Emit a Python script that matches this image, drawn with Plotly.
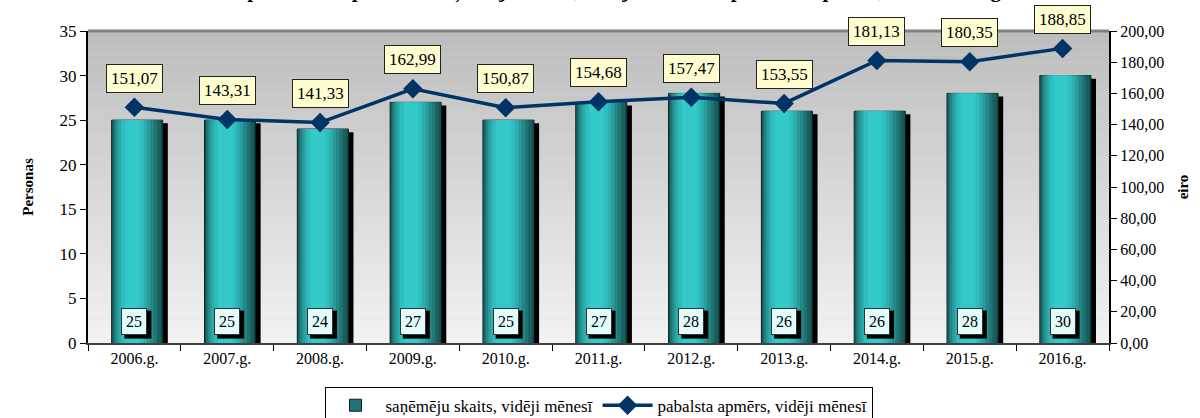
import plotly.graph_objects as go

years = ["2006.g.", "2007.g.", "2008.g.", "2009.g.", "2010.g.", "2011.g.",
         "2012.g.", "2013.g.", "2014.g.", "2015.g.", "2016.g."]
recipients = [25, 25, 24, 27, 25, 27, 28, 26, 26, 28, 30]
benefit = [151.07, 143.31, 141.33, 162.99, 150.87, 154.68, 157.47, 153.55, 181.13, 180.35, 188.85]
benefit_labels = ["151,07", "143,31", "141,33", "162,99", "150,87", "154,68",
                  "157,47", "153,55", "181,13", "180,35", "188,85"]

FONT = "Liberation Serif, Times New Roman, serif"
fig = go.Figure()

# shadow behind bars
fig.add_trace(go.Bar(x=years, y=recipients, base=-0.35, width=0.55, offset=-0.19,
                     marker=dict(color="black", line=dict(width=0)),
                     showlegend=False, hoverinfo="skip", yaxis="y"))
# base bar (dark edges) -> legend entry
fig.add_trace(go.Bar(x=years, y=recipients, width=0.55, offset=-0.245,
                     name="saņēmēju skaits, vidēji mēnesī",
                     marker=dict(color="#1f7373", line=dict(width=1, color="#062020")),
                     yaxis="y"))
# shading layers (cylinder effect)
shades = [(0.54, -0.24, "#144a4a"), (0.52, -0.235, "#1a5e5e"), (0.47, -0.225, "#1f7373"),
          (0.42, -0.21, "#248787"), (0.36, -0.19, "#299b9b"), (0.30, -0.165, "#2daeae"),
          (0.24, -0.14, "#30bdbd"), (0.16, -0.10, "#33c9c9")]
for w, off, col in shades:
    fig.add_trace(go.Bar(x=years, y=recipients, width=w, offset=off,
                         marker=dict(color=col, line=dict(width=0)),
                         showlegend=False, hoverinfo="skip", yaxis="y"))

fig.add_trace(go.Scatter(x=years, y=benefit, mode="lines+markers",
                         name="pabalsta apmērs, vidēji mēnesī",
                         line=dict(color="#003366", width=3.5),
                         marker=dict(symbol="diamond", size=15, color="#003366"),
                         yaxis="y2"))

# background gradient bands
shapes = []
n = 40
c0, c1 = (0xbd, 0xbd, 0xbd), (0xf2, 0xf2, 0xf2)
for i in range(n):
    t = i / (n - 1)
    c = tuple(int(round(a + (b - a) * t)) for a, b in zip(c0, c1))
    shapes.append(dict(type="rect", xref="paper", yref="paper", layer="below",
                       x0=0, x1=1, y0=1 - (i + 1) / n, y1=1 - i / n,
                       fillcolor="rgb(%d,%d,%d)" % c, line=dict(width=0)))
shapes.append(dict(type="line", xref="paper", yref="paper", x0=0, x1=1, y0=1, y1=1,
                   line=dict(color="#808080", width=3), layer="below"))

annotations = []
for yr, v in zip(years, recipients):
    shapes.append(dict(type="rect", xref="x", yref="y", xsizemode="pixel", ysizemode="pixel",
                       xanchor=yr, yanchor=2.4, x0=-10, x1=17, y0=-17, y1=11,
                       fillcolor="black", line=dict(width=0)))
    annotations.append(dict(x=yr, y=2.4, xref="x", yref="y", text=str(v), showarrow=False,
                            font=dict(family=FONT, size=16, color="black"),
                            bgcolor="#e2fcfc", bordercolor="#333333", borderwidth=1,
                            borderpad=4, xshift=0))
for yr, v, lab in zip(years, benefit, benefit_labels):
    annotations.append(dict(x=yr, y=v, xref="x", yref="y2", text=lab, showarrow=False,
                            yshift=29, font=dict(family=FONT, size=17, color="black"),
                            bgcolor="#fdfdd0", bordercolor="#222222", borderwidth=1,
                            borderpad=4))
annotations.append(dict(xref="paper", yref="paper", x=0.52, y=1, yanchor="bottom", yshift=26,
                        showarrow=False,
                        text="<b>Apbedīšanas pabalsta saņēmēju skaits, vidējais mēneša pabalsta apmērs, 2006.-2016.g.</b>",
                        font=dict(family=FONT, size=21, color="black")))

fig.update_layout(
    width=1200, height=418,
    margin=dict(l=88, r=91, t=31, b=75, autoexpand=False),
    paper_bgcolor="white", plot_bgcolor="#d8d8d8",
    barmode="overlay", separators=", ",
    font=dict(family=FONT, size=15, color="black"),
    shapes=shapes, annotations=annotations,
    xaxis=dict(range=[-0.5, 10.5], showgrid=False, showline=True, linecolor="#404040",
               linewidth=1.5, ticks="outside", tickson="boundaries", ticklen=6,
               tickcolor="black", tickfont=dict(family=FONT, size=16), automargin=False),
    yaxis=dict(range=[0, 35], dtick=5, showgrid=False, showline=True, linecolor="black",
               linewidth=2, ticks="outside", ticklen=6, tickcolor="black",
               tickfont=dict(family=FONT, size=17), zeroline=False, automargin=False,
               title=dict(text="<b>Personas</b>", font=dict(family=FONT, size=15), standoff=22)),
    yaxis2=dict(range=[0, 200], dtick=20, tickformat=".2f", overlaying="y", side="right",
                showgrid=False, showline=True, linecolor="black", linewidth=2,
                ticks="outside", ticklen=6, tickcolor="black", zeroline=False, automargin=False,
                tickfont=dict(family=FONT, size=16),
                title=dict(text="<b>eiro</b>", font=dict(family=FONT, size=15), standoff=14)),
    legend=dict(orientation="h", x=0.5, xanchor="center", y=-0.14, yanchor="top",
                bordercolor="black", borderwidth=1, bgcolor="white", itemwidth=50,
                font=dict(family=FONT, size=17), traceorder="normal"),
)

fig.write_html("out.html", config={"displayModeBar": False},
               post_script="document.body.style.margin='0';document.body.style.overflow='hidden';")
